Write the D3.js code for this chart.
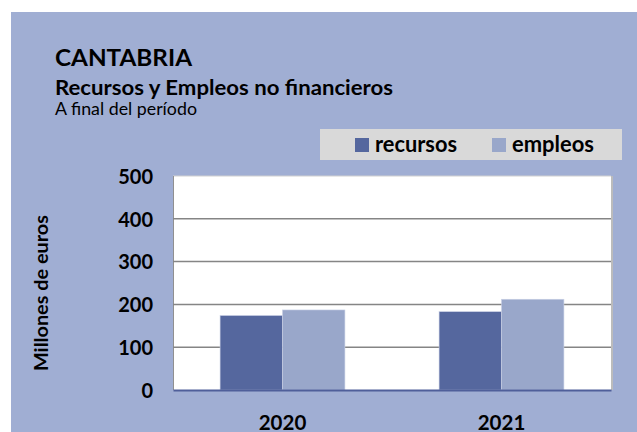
<!DOCTYPE html>
<html>
<head>
<meta charset="utf-8">
<script src="https://cdn.jsdelivr.net/npm/d3@7"></script>
<style>
  body { margin: 0; background: #fff; }
  svg { display: block; font-family: Lato, "Open Sans", sans-serif; }
</style>
</head>
<body>
<svg width="637" height="432"></svg>
<script>
const years = ["2020", "2021"];
const seriesNames = ["recursos", "empleos"];
const recursos = [174, 183];
const empleos = [187, 212];
const yTicks = [0, 100, 200, 300, 400, 500];

const colors = { recursos: "#55679e", empleos: "#99a7ca" };

const svg = d3.select("svg");

// background panel
svg.append("rect")
  .attr("x", 11).attr("y", 12)
  .attr("width", 626).attr("height", 420)
  .attr("fill", "#a0aed3");

// titles
svg.append("text").attr("x", 55).attr("y", 66)
  .style("font-size", "23px").style("font-weight", "700")
  .attr("textLength", 137).attr("lengthAdjust", "spacingAndGlyphs")
  .text("CANTABRIA");
svg.append("text").attr("x", 55).attr("y", 95)
  .style("font-size", "20px").style("font-weight", "700")
  .attr("textLength", 338).attr("lengthAdjust", "spacingAndGlyphs")
  .text("Recursos y Empleos no financieros");
svg.append("text").attr("x", 55).attr("y", 115)
  .style("font-size", "16.5px")
  .attr("textLength", 142).attr("lengthAdjust", "spacingAndGlyphs")
  .text("A final del período");

const plot = { left: 173, top: 176, right: 611, bottom: 390 };

const x = d3.scaleBand(years, [plot.left, plot.right])
  .paddingInner(0.43).paddingOuter(0.215);
const xs = d3.scaleBand(seriesNames, [0, x.bandwidth()]);
const y = d3.scaleLinear([0, 500], [plot.bottom, plot.top]);

// plot area
svg.append("rect")
  .attr("x", plot.left).attr("y", plot.top)
  .attr("width", plot.right - plot.left).attr("height", plot.bottom - plot.top)
  .attr("fill", "#fff");
svg.append("line")
  .attr("x1", plot.right + 1).attr("x2", plot.right + 1)
  .attr("y1", plot.top).attr("y2", plot.bottom)
  .attr("stroke", "#bcbcbc").attr("stroke-width", 2);
svg.append("line")
  .attr("x1", plot.left).attr("x2", plot.right)
  .attr("y1", plot.top).attr("y2", plot.top)
  .attr("stroke", "#d0d0d0").attr("stroke-width", 1);
svg.append("line")
  .attr("x1", plot.left + 0.5).attr("x2", plot.left + 0.5)
  .attr("y1", plot.top).attr("y2", plot.bottom)
  .attr("stroke", "#909090").attr("stroke-width", 1);

// gridlines
svg.append("g").selectAll("line")
  .data(yTicks.filter(d => d > 0 && d < 500))
  .join("line")
  .attr("x1", plot.left).attr("x2", plot.right)
  .attr("y1", d => y(d)).attr("y2", d => y(d))
  .attr("stroke", "#858585").attr("stroke-width", 1.5);

// y axis labels
const yAxis = svg.append("g")
  .attr("transform", `translate(${plot.left},0)`)
  .call(d3.axisLeft(y).tickValues(yTicks).tickSize(0).tickPadding(20));
yAxis.select(".domain").remove();
yAxis.selectAll("text")
  .style("font-family", "Lato, sans-serif")
  .style("font-size", "20px").style("font-weight", "700")
  .attr("fill", "#000").attr("dy", "0.36em");

// bars
const rows = years.map((yr, i) => ({ year: yr, recursos: recursos[i], empleos: empleos[i] }));
svg.append("g").selectAll("g")
  .data(rows)
  .join("g")
  .attr("transform", d => `translate(${x(d.year)},0)`)
  .selectAll("rect")
  .data(d => seriesNames.map(k => ({ key: k, value: d[k] })))
  .join("rect")
  .attr("x", d => xs(d.key))
  .attr("y", d => y(d.value))
  .attr("width", xs.bandwidth())
  .attr("height", d => y(0) - y(d.value))
  .attr("fill", d => colors[d.key])
  .attr("stroke", "#c8cfe4").attr("stroke-width", 0.6);

// x axis
const xAxis = svg.append("g")
  .attr("transform", `translate(0,${plot.bottom})`)
  .call(d3.axisBottom(x).tickSize(0));
xAxis.select(".domain")
  .attr("stroke", "#4f5f9a").attr("stroke-width", 2);
xAxis.selectAll("text")
  .style("font-family", "Lato, sans-serif")
  .style("font-size", "20.5px").style("font-weight", "700")
  .attr("fill", "#000")
  .attr("y", 39.5).attr("dy", 0);

// y title
svg.append("text")
  .attr("transform", "translate(48,293) rotate(-90)")
  .attr("text-anchor", "middle")
  .style("font-size", "19px").style("font-weight", "700")
  .attr("textLength", 156).attr("lengthAdjust", "spacingAndGlyphs")
  .text("Millones de euros");

// legend
const legend = svg.append("g");
legend.append("rect")
  .attr("x", 320).attr("y", 129)
  .attr("width", 302).attr("height", 31)
  .attr("fill", "#d9d9d9");
const legendX = [355, 492];
const items = legend.selectAll("g.item")
  .data(seriesNames)
  .join("g")
  .attr("class", "item")
  .attr("transform", (d, i) => `translate(${legendX[i]},0)`);
items.append("rect")
  .attr("y", 138).attr("width", 14).attr("height", 14)
  .attr("fill", d => colors[d]);
items.append("text")
  .attr("x", 20).attr("y", 152)
  .style("font-size", "22px").style("font-weight", "700")
  .attr("textLength", 82).attr("lengthAdjust", "spacingAndGlyphs")
  .text(d => d);
</script>
</body>
</html>
